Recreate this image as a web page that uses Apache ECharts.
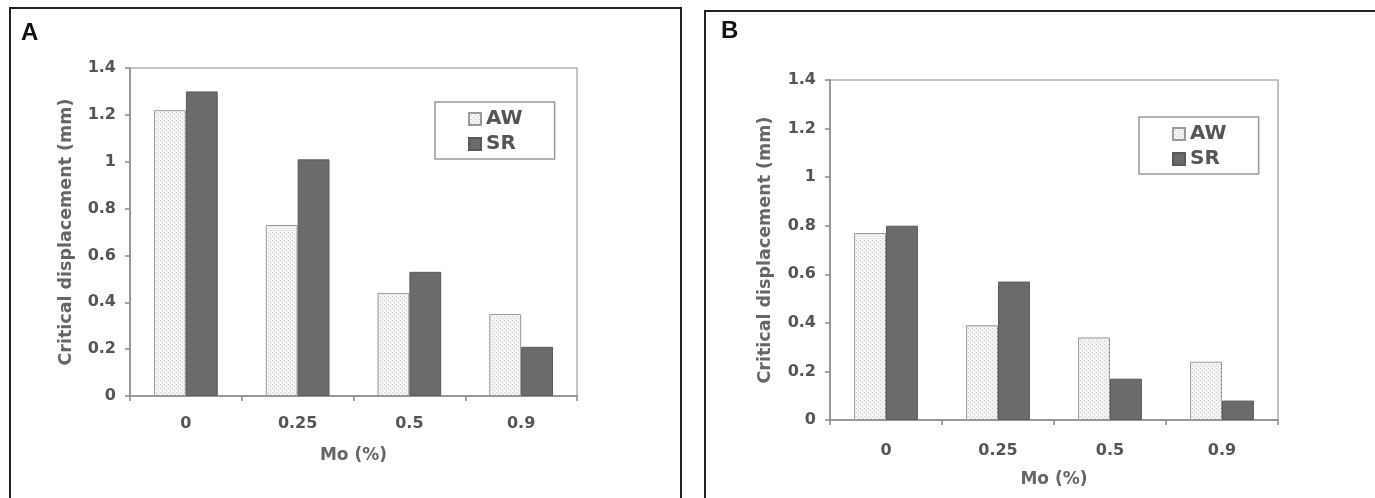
<!DOCTYPE html>
<html>
<head>
<meta charset="utf-8">
<script src="https://cdn.jsdelivr.net/npm/echarts@6/dist/echarts.min.js"></script>
<style>
html,body{margin:0;padding:0;background:#fff;}
#chart{width:1375px;height:498px;}
</style>
</head>
<body>
<div id="chart"></div>
<script>
// ---- data ----
var categories = ['0', '0.25', '0.5', '0.9'];
var seriesNames = ['AW', 'SR'];
var awA = [1.22, 0.73, 0.44, 0.35];
var srA = [1.30, 1.01, 0.53, 0.21];
var awB = [0.77, 0.39, 0.34, 0.24];
var srB = [0.80, 0.57, 0.17, 0.08];
var yMin = 0, yMax = 1.4, yInterval = 0.2;
var xAxisTitle = 'Mo (%)';
var yAxisTitle = 'Critical displacement (mm)';
var panelLabels = ['A', 'B'];

// dotted pattern for AW bars
var pc = document.createElement('canvas');
pc.width = 4; pc.height = 4;
var ctx = pc.getContext('2d');
ctx.fillStyle = '#f4f4f4'; ctx.fillRect(0, 0, 4, 4);
ctx.fillStyle = '#c4c4c4';
ctx.fillRect(0, 0, 1, 1); ctx.fillRect(2, 2, 1, 1);
var awFill = { image: pc, repeat: 'repeat' };

var FONT = 'DejaVu Sans';
var chart = echarts.init(document.getElementById('chart'), null, { renderer: 'canvas' });

function xAxisDef(gi) {
  return {
    type: 'category', gridIndex: gi, data: categories,
    axisLine: { lineStyle: { color: '#8a8a8a', width: 1.5 } },
    axisTick: { show: true, length: 5, inside: false, lineStyle: { color: '#8a8a8a', width: 1.5 } },
    axisLabel: { margin: gi === 0 ? 20 : 23, color: '#555', fontFamily: FONT, fontWeight: 'bold', fontSize: 16 },
    name: xAxisTitle, nameLocation: 'middle', nameGap: 51,
    nameTextStyle: { color: '#666', fontFamily: FONT, fontWeight: 'bold', fontSize: 17 }
  };
}
function yAxisDef(gi) {
  return {
    type: 'value', gridIndex: gi, min: yMin, max: yMax, interval: yInterval,
    axisLine: { show: true, lineStyle: { color: '#8a8a8a', width: 1.5 } },
    axisTick: { show: true, length: 5, inside: false, lineStyle: { color: '#8a8a8a', width: 1.5 } },
    splitLine: { show: false },
    axisLabel: { margin: 14, color: '#555', fontFamily: FONT, fontWeight: 'bold', fontSize: 16 },
    name: yAxisTitle, nameLocation: 'middle', nameGap: gi === 0 ? 55 : 56, nameRotate: 90,
    nameTextStyle: { color: '#666', fontFamily: FONT, fontWeight: 'bold', fontSize: 17.5 }
  };
}
function barSeries(name, data, gi) {
  var isAW = name === 'AW';
  return {
    type: 'bar', name: name, xAxisIndex: gi, yAxisIndex: gi, data: data,
    barGap: '0%', barCategoryGap: '43%',
    itemStyle: isAW
      ? { color: awFill, borderColor: '#9a9a9a', borderWidth: 1 }
      : { color: '#6b6b6b', borderColor: '#5a5a5a', borderWidth: 1 },
    emphasis: { disabled: true }
  };
}
function legendDef(left, top) {
  return {
    left: left, top: top, orient: 'vertical',
    data: seriesNames,
    itemWidth: 12, itemHeight: 12, itemGap: 3,
    padding: [6, 32, 4, 33],
    borderColor: '#9a9a9a', borderWidth: 1.5, borderRadius: 0,
    icon: 'rect', selectedMode: false,
    textStyle: { color: '#555', fontFamily: FONT, fontWeight: 'bold', fontSize: 20, lineHeight: 22 }
  };
}

var option = {
  backgroundColor: '#ffffff',
  animation: false,
  grid: [
    { left: 130, top: 68, width: 447, height: 328, show: true, borderColor: '#b0b0b0', borderWidth: 1.5, backgroundColor: 'transparent' },
    { left: 830, top: 80, width: 448, height: 340, show: true, borderColor: '#b0b0b0', borderWidth: 1.5, backgroundColor: 'transparent' }
  ],
  xAxis: [xAxisDef(0), xAxisDef(1)],
  yAxis: [yAxisDef(0), yAxisDef(1)],
  legend: [legendDef(435, 102), legendDef(1139, 117)],
  series: [
    barSeries('AW', awA, 0), barSeries('SR', srA, 0),
    barSeries('AW', awB, 1), barSeries('SR', srB, 1)
  ],
  graphic: [
    { type: 'rect', shape: { x: 10, y: 8, width: 671, height: 700 }, style: { fill: 'none', stroke: '#222', lineWidth: 2 }, silent: true },
    { type: 'rect', shape: { x: 705, y: 11, width: 720, height: 700 }, style: { fill: 'none', stroke: '#222', lineWidth: 2 }, silent: true },
    { type: 'text', left: 21, top: 21, style: { text: panelLabels[0], fill: '#111', font: 'bold 24px "Liberation Sans", Arial, sans-serif' }, silent: true },
    { type: 'text', left: 721, top: 19, style: { text: panelLabels[1], fill: '#111', font: 'bold 24px "Liberation Sans", Arial, sans-serif' }, silent: true }
  ]
};
chart.setOption(option);
</script>
</body>
</html>
